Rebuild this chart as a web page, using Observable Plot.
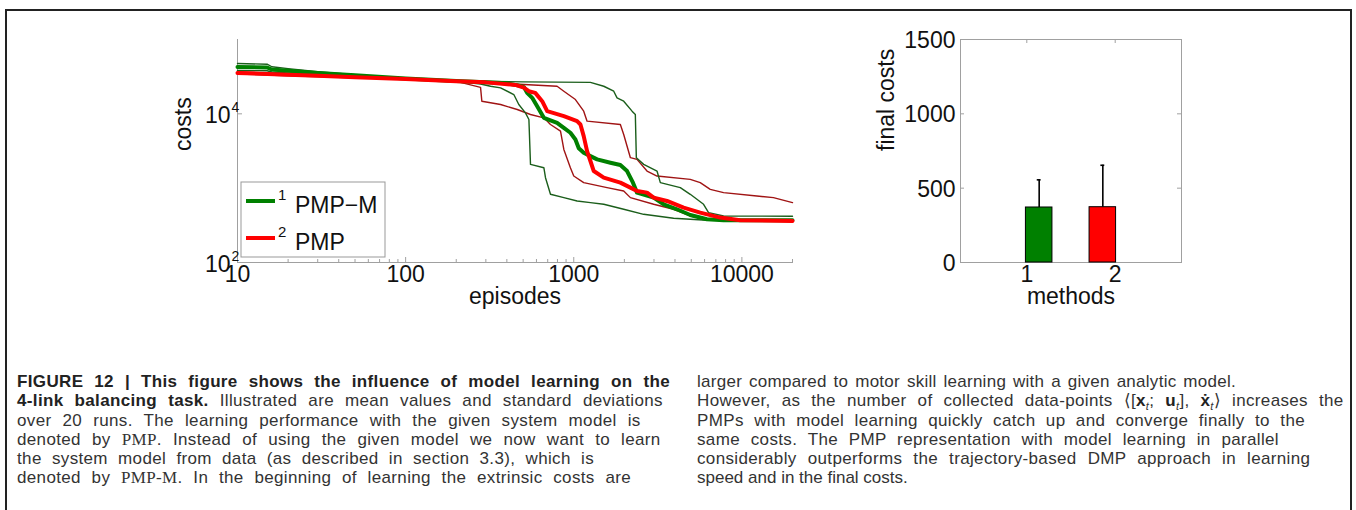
<!DOCTYPE html>
<html>
<head>
<meta charset="utf-8">
<script src="https://cdn.jsdelivr.net/npm/d3@7"></script>
<script src="https://cdn.jsdelivr.net/npm/@observablehq/plot@0.6"></script>
<style>
  body { margin: 0; background: #fff; }
  #fig { position: relative; width: 1356px; height: 510px; overflow: hidden; font-family: "Liberation Sans", Arial, sans-serif; background: #fff; }
  #frame { position: absolute; left: 5px; top: 9px; width: 1343px; height: 600px; border: 2px solid #222; border-bottom: none; }
  .chart { position: absolute; top: 0; }
  .cap { position: absolute; font-size: 17px; line-height: 19.3px; color: #333; }
  .cap div { white-space: nowrap; height: 19.3px; }
  .cap span.ln { display: inline-block; white-space: nowrap; }
  .cap b { color: #222; }
  .pm { font-family: "Liberation Serif", serif; }
  sub { font-size: 11px; line-height: 0; }
</style>
</head>
<body>
<div id="fig">
  <div id="frame"></div>
  <div id="c1" class="chart" style="left:0px"></div>
  <div id="c2" class="chart" style="left:820px"></div>
  <svg id="legend" class="chart" style="left:0px" width="400" height="300" font-family="Liberation Sans, Arial, sans-serif"></svg>
  <div class="cap" id="capL" style="left:17px; top:372px"></div>
  <div class="cap" id="capR" style="left:697px; top:372px"></div>
</div>
<script>
// ---------------- data ----------------
const xTicks = [10, 100, 1000, 10000];
const xMinorTicks = [20, 30, 40, 50, 60, 70, 80, 90, 200, 300, 400, 500, 600, 700, 800, 900,
                     2000, 3000, 4000, 5000, 6000, 7000, 8000, 9000, 20000];
const yTicksLeft = [100, 10000];

const seriesNames = ["PMP−M", "PMP"];
const seriesIndex = ["1", "2"];

// [episodes, costs]
const pmpmMean = [[10,42700],[15,42000],[16,39500],[20,38000],[30,35500],[50,33000],[100,29800],[200,27600],[300,26700],[400,25800],[480,23800],[505,22900],[528,19140],[566,16410],[606,12670],[664,8830],[727,8180],[796,7570],[873,6490],[955,5560],[1023,4520],[1071,3440],[1146,3000],[1256,2700],[1377,2440],[1652,2200],[1893,2050],[2075,1700],[2250,1186],[2378,871],[2987,746],[3426,607],[4110,520],[4931,435],[6193,382],[7780,370],[20000,370]];
const pmpmUpper = [[10,47600],[15,46500],[16,43000],[20,40500],[30,37000],[50,33500],[100,30000],[200,27800],[500,26900],[1256,26500],[1508,23500],[1729,20140],[1809,16410],[1982,14790],[2222,10860],[2324,9790],[2356,2570],[2605,2090],[3127,1700],[3273,1186],[4302,1016],[4931,827],[5917,607],[6336,469],[7780,423],[20000,419]];
const pmpmLower = [[10,38400],[15,38000],[16,36500],[20,35500],[30,34000],[50,32000],[100,29500],[200,27300],[279,25200],[320,23500],[367,22330],[440,18190],[471,13340],[516,10310],[541,8390],[553,2090],[664,1885],[679,1383],[727,827],[873,746],[1047,673],[1256,639],[1508,607],[1982,520],[2605,445],[3926,394],[6193,370],[20000,370]];
const pmpMean = [[10,35500],[20,33500],[30,32500],[50,31000],[100,29500],[200,27500],[300,26500],[450,24500],[505,22500],[540,20140],[590,19140],[649,14790],[695,10860],[873,9300],[1047,7970],[1096,7190],[1146,5010],[1200,3150],[1256,2320],[1315,1700],[1508,1383],[1893,1186],[2172,1016],[2378,916],[2727,871],[2987,746],[3585,673],[4502,547],[5653,469],[7433,402],[9772,370],[20000,362]];
const pmpUpper = [[10,36800],[20,34500],[50,31500],[100,29800],[200,27700],[505,24760],[796,23500],[873,20140],[1023,15570],[1146,10860],[1200,7970],[1893,7190],[1982,5280],[2172,2570],[2378,2440],[2727,1700],[3127,1456],[4931,1314],[5653,1186],[6483,965],[7780,871],[12270,785],[15410,746],[20000,639]];
const pmpLower = [[10,34300],[20,32600],[50,30500],[100,29300],[212,26500],[279,22700],[284,14790],[367,13340],[461,11430],[553,9790],[664,8830],[727,7190],[834,5850],[873,3320],[955,1885],[1000,1456],[1146,1186],[1578,1016],[1982,916],[2172,746],[2987,607],[3926,520],[4931,423],[6193,382],[7780,370],[20000,362]];

const methods = [1, 2];
const finalMean = [370, 372];
const finalStd = [186, 282];
const yTicksRight = [0, 500, 1000, 1500];

// ---------------- styles ----------------
const GREEN = "#008000", GREEN_DARK = "#1b5e1b", RED = "#ff0000", RED_DARK = "#a01414", AXIS = "#a0a0a0";
const FS = 23;

// ---------------- left chart ----------------
const W1 = 820, H1 = 330, ML1 = 237, MR1 = 28, MT = 39, MB = 68;
const fw1 = W1 - ML1 - MR1, fh = H1 - MT - MB;
const ln = (data, stroke, w) => Plot.line(data, {x: d => d[0], y: d => d[1], stroke, strokeWidth: w, strokeLinejoin: "round"});

const left = Plot.plot({
  width: W1, height: H1, marginLeft: ML1, marginRight: MR1, marginTop: MT, marginBottom: MB,
  style: {fontFamily: "Liberation Sans, Arial, sans-serif", fontSize: FS + "px", color: "#111", background: "transparent"},
  x: {type: "log", domain: [10, 20000], axis: null},
  y: {type: "log", domain: [100, 100000], axis: null},
  marks: [
    Plot.frame({anchor: "bottom", stroke: AXIS}),
    Plot.frame({anchor: "left", stroke: AXIS}),
    Plot.tickX(xTicks, {x: d => d, stroke: AXIS, insetTop: fh - 5}),
    Plot.tickX(xMinorTicks, {x: d => d, stroke: AXIS, insetTop: fh - 3}),
    Plot.tickY(yTicksLeft, {y: d => d, stroke: AXIS, insetRight: fw1 - 5}),
    ln(pmpUpper, RED_DARK, 1.4),
    ln(pmpLower, RED_DARK, 1.4),
    ln(pmpmUpper, GREEN_DARK, 1.4),
    ln(pmpmLower, GREEN_DARK, 1.4),
    ln(pmpmMean, GREEN, 4),
    ln(pmpMean, RED, 4),
    Plot.text(xTicks, {x: d => d, frameAnchor: "bottom", dy: 19, text: d => String(d), fontSize: FS}),
    Plot.text(yTicksLeft, {y: d => d, frameAnchor: "left", dx: -7, dy: 2, textAnchor: "end", text: () => "10", fontSize: FS}),
    Plot.text(yTicksLeft, {y: d => d, frameAnchor: "left", dx: -6, dy: -6, textAnchor: "start", text: d => String(Math.round(Math.log10(d))), fontSize: 14}),
    Plot.text(["episodes"], {frameAnchor: "bottom", dy: 41, fontSize: FS}),
    Plot.text(["costs"], {frameAnchor: "left", dx: -54, rotate: -90, fontSize: FS})
  ]
});
document.getElementById("c1").appendChild(left);

// ---------------- right chart ----------------
const W2 = 400, ML2 = 140, MR2 = 39;
const fw2 = W2 - ML2 - MR2;
const barShift = 0.14, barHalf = 0.15, capHalf = 0.022;
const bars = methods.map((m, i) => ({
  method: m, mean: finalMean[i], std: finalStd[i],
  center: m + (i === 0 ? barShift : -barShift),
  fill: i === 0 ? GREEN : RED
}));

const right = Plot.plot({
  width: W2, height: H1, marginLeft: ML2, marginRight: MR2, marginTop: MT, marginBottom: MB,
  style: {fontFamily: "Liberation Sans, Arial, sans-serif", fontSize: FS + "px", color: "#111", background: "transparent"},
  x: {type: "linear", domain: [0.25, 2.75], axis: null},
  y: {type: "linear", domain: [0, 1500], axis: null},
  marks: [
    Plot.frame({stroke: AXIS}),
    Plot.tickX(methods, {x: d => d, stroke: AXIS, insetTop: fh - 4}),
    Plot.tickX(methods, {x: d => d, stroke: AXIS, insetBottom: fh - 4}),
    Plot.tickY(yTicksRight, {y: d => d, stroke: AXIS, insetRight: fw2 - 4}),
    Plot.tickY(yTicksRight, {y: d => d, stroke: AXIS, insetLeft: fw2 - 4}),
    Plot.rectY(bars, {x1: d => d.center - barHalf, x2: d => d.center + barHalf, y1: 0, y2: d => d.mean, fill: d => d.fill, stroke: "#000", strokeWidth: 1}),
    Plot.ruleX(bars, {x: d => d.center, y1: d => d.mean, y2: d => d.mean + d.std, stroke: "#000", strokeWidth: 1.6}),
    Plot.ruleY(bars, {x1: d => d.center - capHalf, x2: d => d.center + capHalf, y: d => d.mean + d.std, stroke: "#000", strokeWidth: 1.6}),
    Plot.text(methods, {x: d => d, frameAnchor: "bottom", dy: 19, text: d => String(d), fontSize: FS}),
    Plot.text(yTicksRight, {y: d => d, frameAnchor: "left", dx: -5, dy: 1, textAnchor: "end", text: d => String(d), fontSize: FS}),
    Plot.text(["methods"], {frameAnchor: "bottom", dy: 41, fontSize: FS}),
    Plot.text(["final costs"], {frameAnchor: "left", dx: -74, rotate: -90, fontSize: FS})
  ]
});
document.getElementById("c2").appendChild(right);

// ---------------- legend ----------------
const lg = d3.select("#legend");
lg.append("rect").attr("x", 241).attr("y", 182).attr("width", 144).attr("height", 75)
  .attr("fill", "#fff").attr("stroke", "#999").attr("stroke-width", 1);
[GREEN, RED].forEach((c, i) => {
  const cy = 201 + i * 37;
  lg.append("line").attr("x1", 246).attr("x2", 275).attr("y1", cy).attr("y2", cy)
    .attr("stroke", c).attr("stroke-width", 4);
  lg.append("text").attr("x", 278).attr("y", cy - 1).attr("font-size", 15).attr("fill", "#111").text(seriesIndex[i]);
  lg.append("text").attr("x", 295).attr("y", cy + 12).attr("font-size", FS).attr("fill", "#111").text(seriesNames[i]);
});

// ---------------- caption ----------------
const capLeft = [
  '<b>FIGURE 12 | This figure shows the influence of model learning on the</b>',
  '<b>4-link balancing task.</b> Illustrated are mean values and standard deviations',
  'over 20 runs. The learning performance with the given system model is',
  'denoted by <span class="pm">PMP</span>. Instead of using the given model we now want to learn',
  'the system model from data (as described in section 3.3), which is',
  'denoted by <span class="pm">PMP-M</span>. In the beginning of learning the extrinsic costs are'
];
const capRight = [
  'larger compared to motor skill learning with a given analytic model.',
  'However, as the number of collected data-points ⟨[<b>x</b><sub><i>t</i></sub>; <b>u</b><sub><i>t</i></sub>], <b>x&#775;</b><sub><i>t</i></sub>⟩ increases the',
  'PMPs with model learning quickly catch up and converge finally to the',
  'same costs. The PMP representation with model learning in parallel',
  'considerably outperforms the trajectory-based DMP approach in learning',
  'speed and in the final costs.'
];
const capLeftWidths = [653, 653, 633, 653, 577, 614];
const capRightWidths = [539, 647, 608, 582, 640, null];

function fill(id, lines, widths) {
  const host = document.getElementById(id);
  lines.forEach((html, i) => {
    const row = document.createElement("div");
    const s = document.createElement("span");
    s.className = "ln";
    s.innerHTML = html;
    row.appendChild(s);
    host.appendChild(row);
    if (widths[i]) {
      const w = s.getBoundingClientRect().width;
      const txt = s.textContent;
      const n = (txt.match(/ /g) || []).length;
      const chars = txt.length;
      const extra = widths[i] - w;
      const ls = Math.max(-0.3, Math.min(0.35, (extra * 0.5) / chars));
      const ws = n ? (extra - ls * chars) / n : 0;
      s.style.letterSpacing = ls + "px";
      s.style.wordSpacing = Math.max(-2, Math.min(6, ws)) + "px";
    }
  });
}
fill("capL", capLeft, capLeftWidths);
fill("capR", capRight, capRightWidths);
</script>
</body>
</html>
